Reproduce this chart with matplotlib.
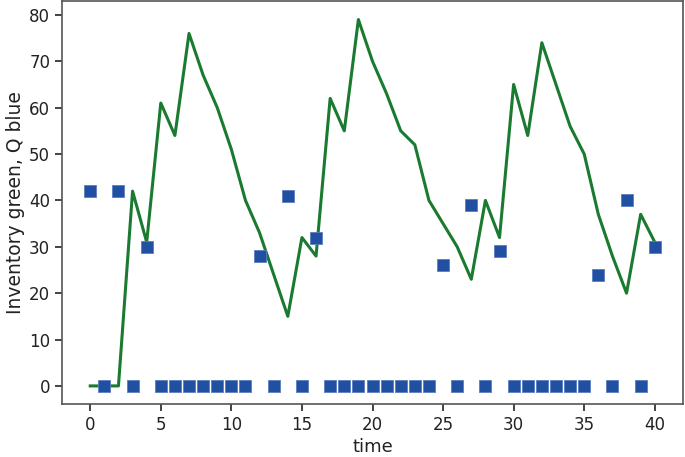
import matplotlib
matplotlib.use("Agg")
import matplotlib.pyplot as plt
import numpy as np

time = list(range(41))
inventory = [0, 0, 0, 42, 31, 61, 54, 76, 67, 60, 51, 40, 33, 24, 15, 32, 28, 62, 55, 79,
             70, 63, 55, 52, 40, 35, 30, 23, 40, 32, 65, 54, 74, 65, 56, 50, 37, 28, 20, 37, 31]
Q = [42, 0, 42, 0, 30, 0, 0, 0, 0, 0, 0, 0, 28, 0, 41, 0, 32, 0, 0, 0,
     0, 0, 0, 0, 0, 26, 0, 39, 0, 29, 0, 0, 0, 0, 0, 0, 24, 0, 40, 0, 30]

fig = plt.figure(figsize=(6.85, 4.57), dpi=100)
ax = fig.add_axes([62/685, 1 - 404/457, (683-62)/685, (404-1)/457])
ax.plot(time, inventory, color="#1a7a30", lw=2.2, zorder=2)
ax.plot(time, Q, linestyle="none", marker="s", ms=9.3, color="#2150a3",
        markeredgecolor="#5a7ec0", markeredgewidth=0.6, zorder=3)
ax.set_xlim(-2, 42)
ax.set_ylim(-3.9, 83)
ax.set_xticks([0, 5, 10, 15, 20, 25, 30, 35, 40])
ax.set_yticks([0, 10, 20, 30, 40, 50, 60, 70, 80])
ax.set_xlabel("time", fontsize=13, color="#222222", labelpad=3)
ax.set_ylabel("Inventory green, Q blue", fontsize=13.5, color="#222222", labelpad=3)
ax.tick_params(labelsize=12, colors="#222222", length=5, width=1.2)
for s in ax.spines.values():
    s.set_color("#555555")
    s.set_linewidth(1.2)
fig.savefig("out.png", dpi=100)
